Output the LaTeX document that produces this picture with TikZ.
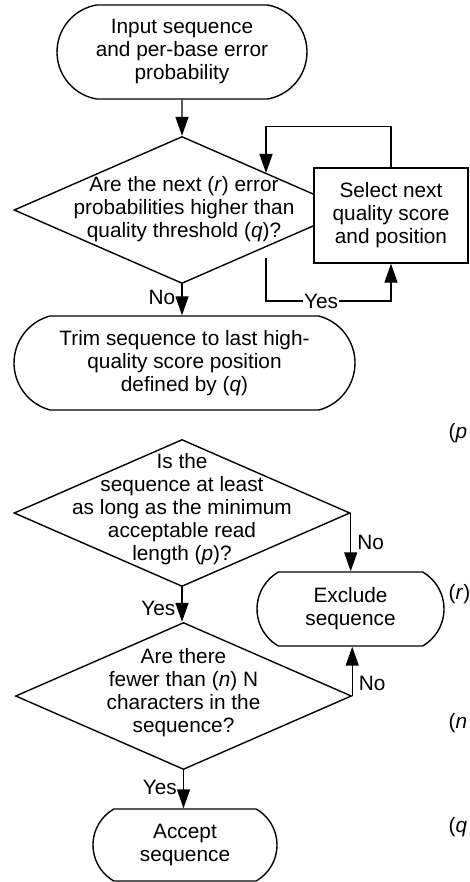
\documentclass[tikz,border=0pt]{standalone}
\usepackage{fontspec}
\setmainfont{Liberation Sans}
\usetikzlibrary{shapes,arrows.meta,calc}

\begin{document}
\begin{tikzpicture}[x=1pt,y=-1pt,line width=1.4pt,
    font=\fontsize{20.8}{23}\selectfont,
    term/.style={draw,rounded rectangle,rounded rectangle arc length=#1,inner sep=0pt,align=center},
    dec/.style={draw,diamond,inner sep=0pt,minimum width=336pt,minimum height=147pt},
    txt/.style={align=center,inner sep=0pt},
    proc/.style={draw,fill=white,align=center,minimum width=154pt,minimum height=95pt,inner sep=0pt},
    conn/.style={-{Triangle[length=19pt,width=13pt]}},
    lab/.style={inner sep=6pt}]
  \useasboundingbox (0,0) rectangle (469,882);
  % boxes
  \node[term=160,minimum width=250pt,minimum height=94pt] (start) at (182,52) {Input sequence\\and per-base error\\probability};
  \node[dec] (d1) at (182,210) {};
  \node[txt] (d1t) at (184,209) {Are the next (\textit{r}) error\\probabilities higher than\\quality threshold (\textit{q})?};
  \node[proc] (sel) at (391,215.5) {Select next\\quality score\\and position};
  \node[term=150,minimum width=341pt,minimum height=94pt] (trim) at (184.5,363) {Trim sequence to last high-\\quality score position\\defined by (\textit{q})};
  \node[dec] (d2) at (182,513) {};
  \node[txt] (d2t) at (182,509) {Is the\\sequence at least\\as long as the minimum\\acceptable read\\length (\textit{p})?};
  \node[term=120,minimum width=187pt,minimum height=74pt] (excl) at (350.5,609) {Exclude\\sequence};
  \node[dec] (d3) at (183.5,696) {};
  \node[txt] (d3t) at (183.5,692.5) {Are there\\fewer than (\textit{n}) N\\characters in the\\sequence?};
  \node[term=120,minimum width=184pt,minimum height=72pt] (acc) at (185,845) {Accept\\sequence};
  % connectors
  \coordinate (loopin) at (266,173);
  \coordinate (yesout) at (266,258);
  \draw[conn] (start) -- (d1.north);
  \draw[conn] (d1.south) -- node[lab,left,pos=0.42]{No} (d1.south |- trim.north);
  \draw[conn] (sel.north) -- ++(0,-41) -| (loopin);
  \draw[conn] (yesout) -- ++(0,43) -| node[pos=0.22,fill=white,inner sep=1pt]{Yes} (sel.south);
  \draw[conn] (d2.east) -- node[lab,right]{No} (d2.east |- excl.north);
  \draw[conn] (d2.south) -- node[lab,left,pos=0.62]{Yes} (d2.south |- d3.north);
  \draw[conn] (d3.east) -- node[lab,right,pos=0.26]{No} (d3.east |- excl.south);
  \draw[conn] (d3.south) -- node[lab,left,pos=0.45]{Yes} (d3.south |- acc.north);
  % cut-off labels at the right edge
  \node[anchor=west,inner sep=0pt] (pl) at (448,433) {(\textit{p}};
  \node[anchor=west,inner sep=0pt] (rl) at (448,594) {(\textit{r})};
  \node[anchor=west,inner sep=0pt] (nl) at (448,723) {(\textit{n}};
  \node[anchor=west,inner sep=0pt] (ql) at (448,827) {(\textit{q}};
\end{tikzpicture}
\end{document}
